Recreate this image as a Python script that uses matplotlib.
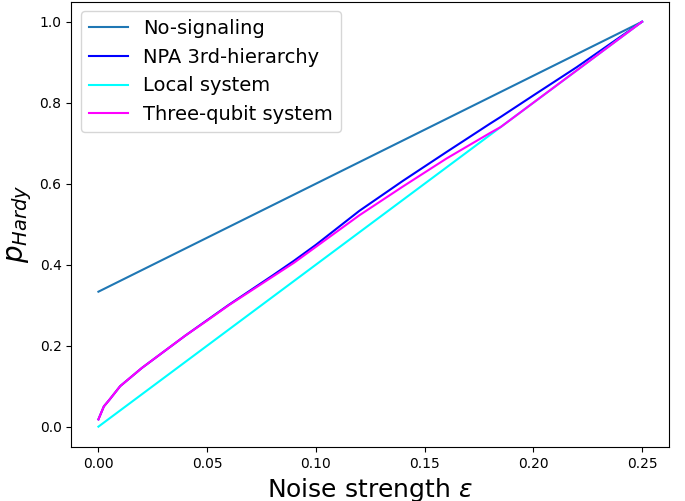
import numpy as np
import matplotlib
matplotlib.use("Agg")
import matplotlib.pyplot as plt

# straight bounds (endpoints)
eps_lines = [0, 0.25]
no_signaling = [1/3, 1.0]
local_system = [0.0, 1.0]

# noise strength grid for the curved bounds
eps = [0, 0.0025, 0.005, 0.01, 0.02, 0.03, 0.04, 0.05, 0.06, 0.07, 0.08,
       0.09, 0.10, 0.12, 0.14, 0.16, 0.18, 0.185, 0.20, 0.22, 0.25]
npa_3rd = [0.018, 0.05, 0.066, 0.10, 0.145, 0.185, 0.225, 0.263, 0.301, 0.337,
           0.373, 0.41, 0.449, 0.533, 0.607, 0.678, 0.748, 0.765, 0.818, 0.888, 1.0]
three_qubit = [0.018, 0.05, 0.066, 0.10, 0.145, 0.185, 0.225, 0.262, 0.30, 0.335,
               0.37, 0.405, 0.444, 0.522, 0.593, 0.662, 0.725, 0.74, 0.80, 0.88, 1.0]

fig, ax = plt.subplots(figsize=(6.85, 5.01), dpi=100)
ax.plot(eps_lines, no_signaling, color="tab:blue", label="No-signaling")
ax.plot(eps, npa_3rd, color="blue", label="NPA 3rd-hierarchy")
ax.plot(eps_lines, local_system, color="cyan", label="Local system")
ax.plot(eps, three_qubit, color="magenta", label="Three-qubit system")

ax.set_xlabel(r"Noise strength $\epsilon$", fontsize=18)
ax.set_ylabel(r"$p_{Hardy}$", fontsize=20)
ax.legend(loc="upper left", fontsize=14)
plt.subplots_adjust(left=0.104, right=0.977, top=0.997, bottom=0.108)
plt.savefig("out.png")
